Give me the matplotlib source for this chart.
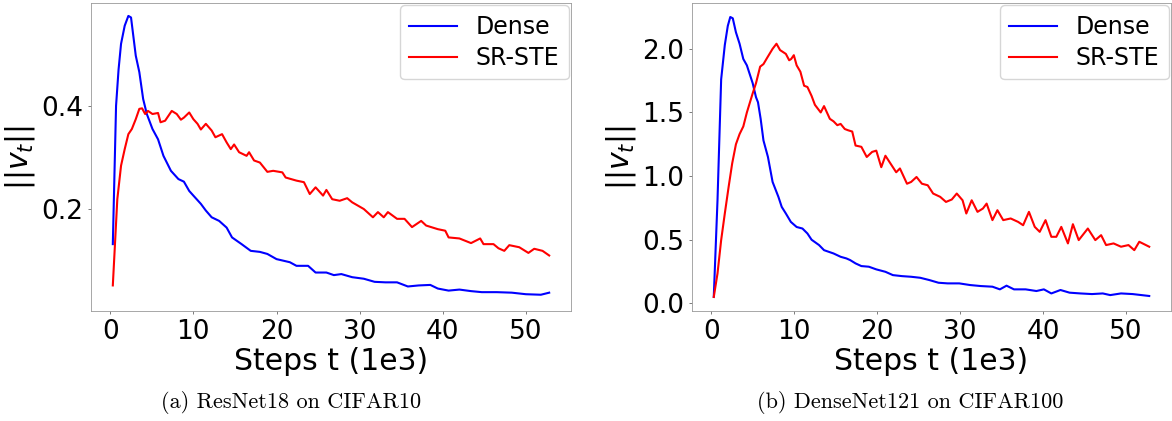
import matplotlib
matplotlib.use("Agg")
import matplotlib.pyplot as plt

# ResNet18 on CIFAR10 (steps in 1e3)
res_dense_x = [0.31, 0.7, 1.0, 1.3, 1.74, 2.18, 2.5, 3.07, 3.5, 3.96, 4.4, 5.08, 5.75, 6.4, 7.3,
               8.2, 8.86, 9.5, 10.0, 10.9, 11.5, 12.2, 13.1, 14.0, 14.65, 15.8, 16.9, 18.0, 18.9,
               20.0, 21.6, 22.4, 23.8, 24.7, 26.0, 26.9, 27.8, 29.1, 30.5, 31.8, 33.1, 34.5, 35.8,
               37.1, 38.5, 39.4, 40.7, 42.0, 43.4, 44.7, 46.5, 48.3, 50.0, 51.8, 52.8]
res_dense_y = [0.132, 0.40, 0.47, 0.52, 0.555, 0.574, 0.571, 0.497, 0.465, 0.413, 0.384, 0.355,
               0.335, 0.303, 0.274, 0.258, 0.253, 0.235, 0.226, 0.21, 0.197, 0.184, 0.177, 0.164,
               0.145, 0.132, 0.119, 0.117, 0.113, 0.103, 0.097, 0.09, 0.09, 0.077, 0.077, 0.072,
               0.074, 0.068, 0.065, 0.059, 0.058, 0.058, 0.05, 0.052, 0.053, 0.046, 0.042, 0.044,
               0.041, 0.039, 0.039, 0.038, 0.035, 0.034, 0.038]

res_srste_x = [0.31, 0.85, 1.3, 1.74, 2.18, 2.6, 3.07, 3.5, 3.83, 4.2, 4.54, 5.08, 5.75, 6.05,
               6.6, 7.4, 8.0, 8.5, 8.86, 9.5, 10.0, 10.5, 10.9, 11.5, 12.2, 12.65, 13.45, 14.0,
               14.5, 14.9, 15.5, 16.4, 16.7, 17.3, 18.0, 18.9, 19.6, 20.7, 21.1, 22.4, 23.3, 24.0,
               24.7, 25.6, 26.0, 26.7, 27.6, 28.5, 29.1, 30.5, 31.6, 32.2, 32.9, 33.4, 34.5, 35.4,
               36.3, 37.4, 38.0, 39.4, 40.3, 40.7, 42.0, 43.4, 44.5, 44.9, 46.1, 46.7, 47.4, 48.0,
               49.2, 50.3, 51.0, 52.0, 52.8]
res_srste_y = [0.052, 0.219, 0.284, 0.316, 0.345, 0.355, 0.374, 0.394, 0.395, 0.384, 0.39, 0.384,
               0.386, 0.368, 0.371, 0.39, 0.384, 0.373, 0.377, 0.387, 0.374, 0.365, 0.354, 0.365,
               0.352, 0.339, 0.345, 0.329, 0.316, 0.325, 0.31, 0.303, 0.31, 0.294, 0.29, 0.272,
               0.274, 0.271, 0.261, 0.255, 0.252, 0.229, 0.242, 0.226, 0.237, 0.219, 0.216, 0.221,
               0.213, 0.2, 0.184, 0.194, 0.184, 0.194, 0.181, 0.181, 0.165, 0.177, 0.168, 0.161,
               0.158, 0.145, 0.143, 0.134, 0.143, 0.132, 0.132, 0.124, 0.119, 0.13, 0.126, 0.115,
               0.123, 0.119, 0.11]

# DenseNet121 on CIFAR100
dn_dense_x = [0.31, 0.76, 1.2, 1.64, 2.0, 2.3, 2.6, 2.98, 3.42, 3.87, 4.3, 5.0, 5.4, 5.64, 5.96,
              6.3, 6.84, 7.4, 8.1, 8.5, 9.0, 9.6, 10.3, 11.0, 11.6, 12.1, 13.0, 13.6, 14.75, 15.6,
              16.3, 16.75, 17.4, 18.1, 19.0, 19.9, 21.0, 21.9, 23.0, 24.1, 25.2, 26.3, 27.4, 28.5,
              29.9, 31.2, 32.5, 33.9, 34.8, 35.6, 36.5, 37.9, 39.2, 40.1, 41.0, 42.1, 43.2, 44.5,
              45.9, 47.2, 48.1, 49.4, 50.8, 52.8]
dn_dense_y = [0.052, 0.81, 1.76, 2.03, 2.18, 2.25, 2.24, 2.13, 2.04, 1.92, 1.87, 1.73, 1.62, 1.58,
              1.45, 1.28, 1.15, 0.954, 0.837, 0.758, 0.706, 0.64, 0.60, 0.588, 0.549, 0.50, 0.458,
              0.418, 0.392, 0.366, 0.353, 0.34, 0.314, 0.293, 0.288, 0.267, 0.248, 0.222, 0.214,
              0.209, 0.201, 0.183, 0.162, 0.157, 0.157, 0.144, 0.136, 0.131, 0.11, 0.139, 0.11,
              0.11, 0.097, 0.11, 0.078, 0.105, 0.084, 0.078, 0.073, 0.078, 0.065, 0.078, 0.073,
              0.058]

dn_srste_x = [0.31, 0.76, 1.2, 1.64, 2.1, 2.53, 2.98, 3.42, 3.87, 4.3, 5.0, 5.4, 5.9, 6.3, 6.75,
              7.4, 7.87, 8.3, 9.0, 9.4, 9.64, 9.96, 10.3, 10.75, 11.2, 11.6, 12.1, 12.5, 13.2,
              13.6, 14.3, 14.75, 15.2, 15.6, 16.1, 16.5, 17.0, 17.4, 18.1, 18.75, 19.4, 19.9, 20.5,
              21.0, 21.6, 22.3, 22.75, 23.6, 24.1, 24.75, 25.4, 26.1, 26.75, 27.6, 28.3, 29.0,
              29.6, 30.3, 30.75, 31.4, 32.1, 32.75, 33.2, 33.9, 34.5, 35.2, 36.1, 37.0, 37.6, 38.3,
              39.0, 39.6, 40.3, 41.0, 41.6, 42.2, 43.0, 43.6, 44.3, 45.4, 46.3, 47.0, 47.6, 48.5,
              49.4, 50.3, 51.0, 51.6, 52.8]
dn_srste_y = [0.05, 0.235, 0.497, 0.706, 0.915, 1.1, 1.25, 1.33, 1.39, 1.5, 1.65, 1.73, 1.86, 1.88,
              1.93, 2.0, 2.04, 1.99, 1.96, 1.91, 1.92, 1.95, 1.87, 1.82, 1.71, 1.70, 1.63, 1.56,
              1.50, 1.55, 1.45, 1.43, 1.40, 1.41, 1.37, 1.36, 1.35, 1.24, 1.23, 1.15, 1.19, 1.20,
              1.07, 1.16, 1.10, 1.03, 1.06, 0.94, 0.954, 0.993, 0.94, 0.928, 0.863, 0.837, 0.797,
              0.816, 0.863, 0.81, 0.706, 0.81, 0.719, 0.745, 0.784, 0.654, 0.732, 0.654, 0.667,
              0.64, 0.614, 0.719, 0.601, 0.562, 0.654, 0.523, 0.523, 0.601, 0.471, 0.622, 0.497,
              0.588, 0.497, 0.536, 0.458, 0.471, 0.445, 0.458, 0.418, 0.484, 0.445]

captions = ["(a) ResNet18 on CIFAR10", "(b) DenseNet121 on CIFAR100"]

fig = plt.figure(figsize=(11.72, 4.21), dpi=100)
ax1 = fig.add_axes([91 / 1172, 110 / 421, 480 / 1172, 308 / 421])
ax2 = fig.add_axes([692 / 1172, 110 / 421, 479 / 1172, 308 / 421])

panels = [
    (ax1, res_dense_x, res_dense_y, res_srste_x, res_srste_y),
    (ax2, dn_dense_x, dn_dense_y, dn_srste_x, dn_srste_y),
]

for ax, dx, dy, sx, sy in panels:
    ax.plot(dx, dy, color="blue", lw=1.5, label="Dense")
    ax.plot(sx, sy, color="red", lw=1.5, label="SR-STE")
    ax.set_xlabel("Steps t (1e3)", fontsize=21.5, labelpad=2)
    ax.set_ylabel(r"$||v_t||$", fontsize=21.5, labelpad=3)
    ax.set_xticks([0, 10, 20, 30, 40, 50])
    ax.tick_params(labelsize=19, length=2.5, width=0.6, pad=3, color="#666666")
    for sp in ax.spines.values():
        sp.set_linewidth(0.6)
        sp.set_color("#999999")
    ax.legend(loc="upper right", fontsize=17, borderaxespad=0.1, labelspacing=0.3,
              handlelength=2.0, handletextpad=0.8)

# ResNet panel only shows 0.2 and 0.4
ax1.set_ylim(0.0025, 0.599)
ax1.set_yticks([0.2, 0.4])
ax2.set_yticks([0.0, 0.5, 1.0, 1.5, 2.0])

fig.text(291 / 1172, 18 / 421, captions[0], family="cmr10", fontsize=16, ha="center", va="center")
fig.text(910 / 1172, 18 / 421, captions[1], family="cmr10", fontsize=16, ha="center", va="center")

fig.savefig("out.png", dpi=100)
